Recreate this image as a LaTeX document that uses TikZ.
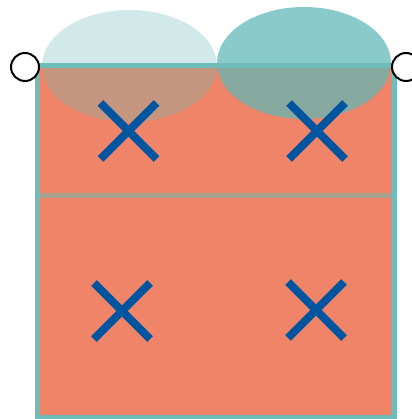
\documentclass[tikz,border=0pt]{standalone}
\usetikzlibrary{calc}
\definecolor{salmon}{HTML}{F08468}
\definecolor{tealborder}{HTML}{6FBDBA}
\definecolor{lightout}{HTML}{D1E9E9}
\definecolor{lightin}{HTML}{C4967F}
\definecolor{darkout}{HTML}{8ACACA}
\definecolor{darkin}{HTML}{87A9A0}
\definecolor{divider}{HTML}{A8A08F}
\definecolor{xblue}{HTML}{0055A0}
\tikzset{
  cross/.style={draw=xblue, line width=8pt},
  marker/.style={circle, draw=black, fill=white, line width=2pt, minimum size=28pt, inner sep=0pt},
}
\begin{document}
\begin{tikzpicture}[x=1pt,y=-1pt]
\useasboundingbox (0,0) rectangle (411,419);
% ellipses outside
\fill[lightout] (129.5,66) ellipse [x radius=87.5, y radius=56];
\fill[darkout] (304,63) ellipse [x radius=87, y radius=56];
% field
\fill[salmon] (37.5,66) rectangle (394.5,417);
\begin{scope}
  \clip (37.5,66) rectangle (394.5,417);
  \fill[lightin] (129.5,66) ellipse [x radius=87.5, y radius=56];
  \fill[darkin] (304,63) ellipse [x radius=87, y radius=56];
\end{scope}
\draw[divider, line width=5pt] (40,195.5) -- (392,195.5);
\draw[tealborder, line width=5pt] (37.5,66) rectangle (394.5,417);
% crosses
\foreach \n/\cx/\cy in {a/128.5/131, b/317/131, c/122/311, d/316/310}{
  \coordinate (\n) at (\cx,\cy);
  \draw[cross] ($(\n)+(-28,-28)$) -- ($(\n)+(28,28)$);
  \draw[cross] ($(\n)+(28,-28)$) -- ($(\n)+(-28,28)$);
}
% circles
\node[marker] (cl) at (25,67) {};
\node[marker] (cr) at (406,67) {};
\end{tikzpicture}
\end{document}
